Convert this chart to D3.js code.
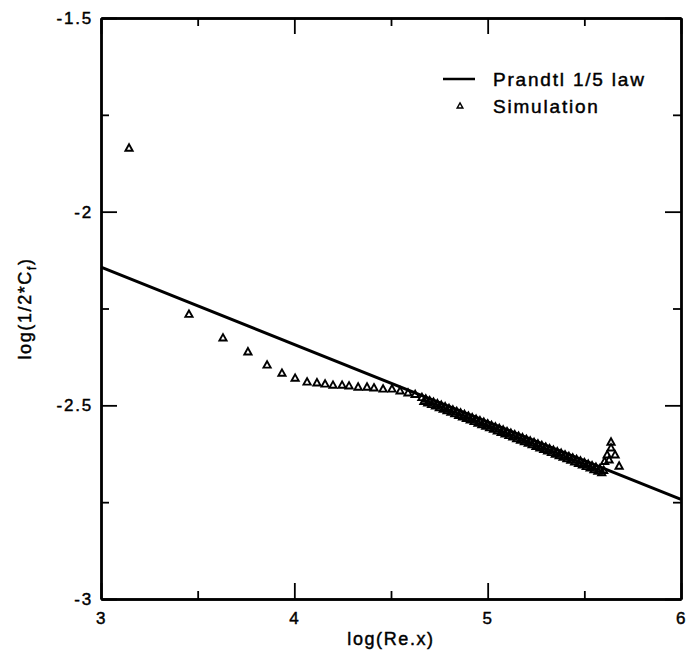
<!DOCTYPE html>
<meta charset="utf-8">
<script src="https://d3js.org/d3.v7.min.js"></script>
<style>
  body { margin: 0; background: #fff; }
  text { font-family: "Liberation Sans", Arial, Helvetica, sans-serif; fill: #000; stroke: #000; stroke-width: 0.45px; }
</style>
<div id="chart"></div>
<script>

    // Prandtl 1/5 law, endpoints of the straight line
    var lawX = [3, 6];
    var lawY = [-2.143, -2.743];

    // simulation points (log Re.x, log(1/2*Cf)), sparse part and end cluster
    var simX = [3.145, 3.455, 3.631, 3.760, 3.859, 3.936, 4.004, 4.066, 4.117, 4.159,
                4.200, 4.247, 4.283, 4.330, 4.376, 4.412, 4.459, 4.505, 4.547, 4.588,
                4.625,
                5.638, 5.638, 5.618, 5.659, 5.628, 5.605, 5.680];
    var simY = [-1.836, -2.265, -2.326, -2.362, -2.396, -2.417, -2.430, -2.440, -2.442, -2.445,
                -2.448, -2.448, -2.450, -2.453, -2.453, -2.455, -2.458, -2.458, -2.463, -2.468,
                -2.472,
                -2.595, -2.610, -2.628, -2.628, -2.641, -2.645, -2.657];

    // dense band of simulation points hugging the law line
    var bandX = [4.66, 4.67, 4.68, 4.69, 4.70, 4.71, 4.72, 4.73, 4.74, 4.75,
                 4.76, 4.77, 4.78, 4.79, 4.80, 4.81, 4.82, 4.83, 4.84, 4.85,
                 4.86, 4.87, 4.88, 4.89, 4.90, 4.91, 4.92, 4.93, 4.94, 4.95,
                 4.96, 4.97, 4.98, 4.99, 5.00, 5.01, 5.02, 5.03, 5.04, 5.05,
                 5.06, 5.07, 5.08, 5.09, 5.10, 5.11, 5.12, 5.13, 5.14, 5.15,
                 5.16, 5.17, 5.18, 5.19, 5.20, 5.21, 5.22, 5.23, 5.24, 5.25,
                 5.26, 5.27, 5.28, 5.29, 5.30, 5.31, 5.32, 5.33, 5.34, 5.35,
                 5.36, 5.37, 5.38, 5.39, 5.40, 5.41, 5.42, 5.43, 5.44, 5.45,
                 5.46, 5.47, 5.48, 5.49, 5.50, 5.51, 5.52, 5.53, 5.54, 5.55,
                 5.56, 5.57, 5.58, 5.59, 5.60];
    var bandY = [-2.480, -2.490, -2.484, -2.494, -2.488, -2.498, -2.492, -2.502, -2.496, -2.506,
                 -2.500, -2.510, -2.504, -2.514, -2.508, -2.518, -2.512, -2.522, -2.516, -2.526,
                 -2.520, -2.530, -2.524, -2.534, -2.528, -2.538, -2.532, -2.542, -2.536, -2.546,
                 -2.540, -2.550, -2.544, -2.554, -2.548, -2.558, -2.552, -2.562, -2.556, -2.566,
                 -2.560, -2.570, -2.564, -2.574, -2.568, -2.578, -2.572, -2.582, -2.576, -2.586,
                 -2.580, -2.590, -2.584, -2.594, -2.588, -2.598, -2.592, -2.602, -2.596, -2.606,
                 -2.600, -2.610, -2.604, -2.614, -2.608, -2.618, -2.612, -2.622, -2.616, -2.626,
                 -2.620, -2.630, -2.624, -2.634, -2.628, -2.638, -2.632, -2.642, -2.636, -2.646,
                 -2.640, -2.650, -2.644, -2.654, -2.648, -2.658, -2.652, -2.662, -2.656, -2.666,
                 -2.660, -2.670, -2.664, -2.674, -2.668];

    var xMajor = [3, 4, 5, 6];
    var xMinor = [3.5, 4.5, 5.5];
    var yMajor = [-1.5, -2, -2.5, -3];
    var yMinor = [-1.75, -2.25, -2.75];

    var W = 686, H = 662;
    var margin = {top: 18, right: 5, bottom: 63, left: 101};
    var width = W - margin.left - margin.right,
        height = H - margin.top - margin.bottom;

    var svg = d3.select("#chart").append("svg")
        .attr("width", W)
        .attr("height", H)
        .append("g")
        .attr("transform", "translate(" + margin.left + "," + margin.top + ")");

    var x = d3.scaleLinear().domain([3, 6]).range([0, width]);
    var y = d3.scaleLinear().domain([-3, -1.5]).range([height, 0]);

    function styleAxis(g) {
        g.select(".domain").attr("stroke-width", 2.4);
        g.selectAll(".tick line").attr("stroke-width", 1.8);
        g.selectAll("text")
            .style("font-family", '"Liberation Sans", Arial, sans-serif')
            .style("font-size", "17px")
            .style("letter-spacing", "1.8px")
            .attr("fill", "#000");
    }

    // bottom
    svg.append("g").attr("transform", "translate(0," + height + ")")
        .call(d3.axisBottom(x).tickValues(xMajor).tickSize(-16).tickSizeOuter(0).tickPadding(13)
            .tickFormat(d3.format("d")))
        .call(styleAxis);
    svg.append("g").attr("transform", "translate(0," + height + ")")
        .call(d3.axisBottom(x).tickValues(xMinor).tickSize(-8).tickSizeOuter(0).tickFormat(""))
        .call(styleAxis);
    // top
    svg.append("g")
        .call(d3.axisTop(x).tickValues(xMajor).tickSize(-16).tickSizeOuter(0).tickFormat(""))
        .call(styleAxis);
    svg.append("g")
        .call(d3.axisTop(x).tickValues(xMinor).tickSize(-8).tickSizeOuter(0).tickFormat(""))
        .call(styleAxis);
    // left
    svg.append("g")
        .call(d3.axisLeft(y).tickValues(yMajor).tickSize(-16).tickSizeOuter(0).tickPadding(8)
            .tickFormat(function(d) { return String(d); }))
        .call(styleAxis);
    svg.append("g")
        .call(d3.axisLeft(y).tickValues(yMinor).tickSize(-8).tickSizeOuter(0).tickFormat(""))
        .call(styleAxis);
    // right
    svg.append("g").attr("transform", "translate(" + width + ",0)")
        .call(d3.axisRight(y).tickValues(yMajor).tickSize(-16).tickSizeOuter(0).tickFormat(""))
        .call(styleAxis);
    svg.append("g").attr("transform", "translate(" + width + ",0)")
        .call(d3.axisRight(y).tickValues(yMinor).tickSize(-8).tickSizeOuter(0).tickFormat(""))
        .call(styleAxis);

    // axis titles
    svg.append("text")
        .attr("x", width / 2)
        .attr("y", height + 46)
        .attr("text-anchor", "middle")
        .style("font-size", "18px")
        .style("letter-spacing", "1.6px")
        .text("log(Re.x)");

    var yt = svg.append("text")
        .attr("transform", "translate(-70," + (height / 2) + ") rotate(-90)")
        .attr("text-anchor", "middle")
        .style("font-size", "18px")
        .style("letter-spacing", "1.6px");
    yt.append("tspan").text("log(1/2*C");
    yt.append("tspan").attr("dy", 5).style("font-size", "12px").text("f");
    yt.append("tspan").attr("dy", -5).text(")");

    // Prandtl line
    var lawData = lawX.map(function(d, i) { return [d, lawY[i]]; });
    svg.append("path")
        .datum(lawData)
        .attr("fill", "none")
        .attr("stroke", "#000")
        .attr("stroke-width", 3)
        .attr("d", d3.line().x(function(d) { return x(d[0]); }).y(function(d) { return y(d[1]); }));

    // triangles (open, so overlapping ones merge into a solid band)
    function tri(s) {
        var hw = 3.6 * s, h = 6.4 * s;
        return "M0," + (-h * 0.6) + "L" + hw + "," + (h * 0.4) + "L" + (-hw) + "," + (h * 0.4) + "Z";
    }
    var sim = simX.map(function(d, i) { return [d, simY[i]]; })
        .concat(bandX.map(function(d, i) { return [d, bandY[i]]; }));
    svg.selectAll(".sim")
        .data(sim)
        .enter().append("path")
        .attr("class", "sim")
        .attr("transform", function(d) { return "translate(" + x(d[0]) + "," + y(d[1]) + ")"; })
        .attr("d", tri(1))
        .attr("fill", "none")
        .attr("stroke", "#000")
        .attr("stroke-width", 1.9);

    // legend
    var lg = svg.append("g").attr("transform", "translate(" + (443 - margin.left) + "," + (79 - margin.top) + ")");
    lg.append("line").attr("x1", 0).attr("x2", 32).attr("y1", 0).attr("y2", 0)
        .attr("stroke", "#000").attr("stroke-width", 2.5);
    lg.append("text").attr("x", 50).attr("y", 7)
        .style("font-size", "19px").style("letter-spacing", "1.8px")
        .text("Prandtl 1/5 law");
    lg.append("path").attr("transform", "translate(17,27)").attr("d", tri(0.8))
        .attr("fill", "none").attr("stroke", "#000").attr("stroke-width", 1.4);
    lg.append("text").attr("x", 50).attr("y", 34)
        .style("font-size", "19px").style("letter-spacing", "1.8px")
        .text("Simulation");

</script>
